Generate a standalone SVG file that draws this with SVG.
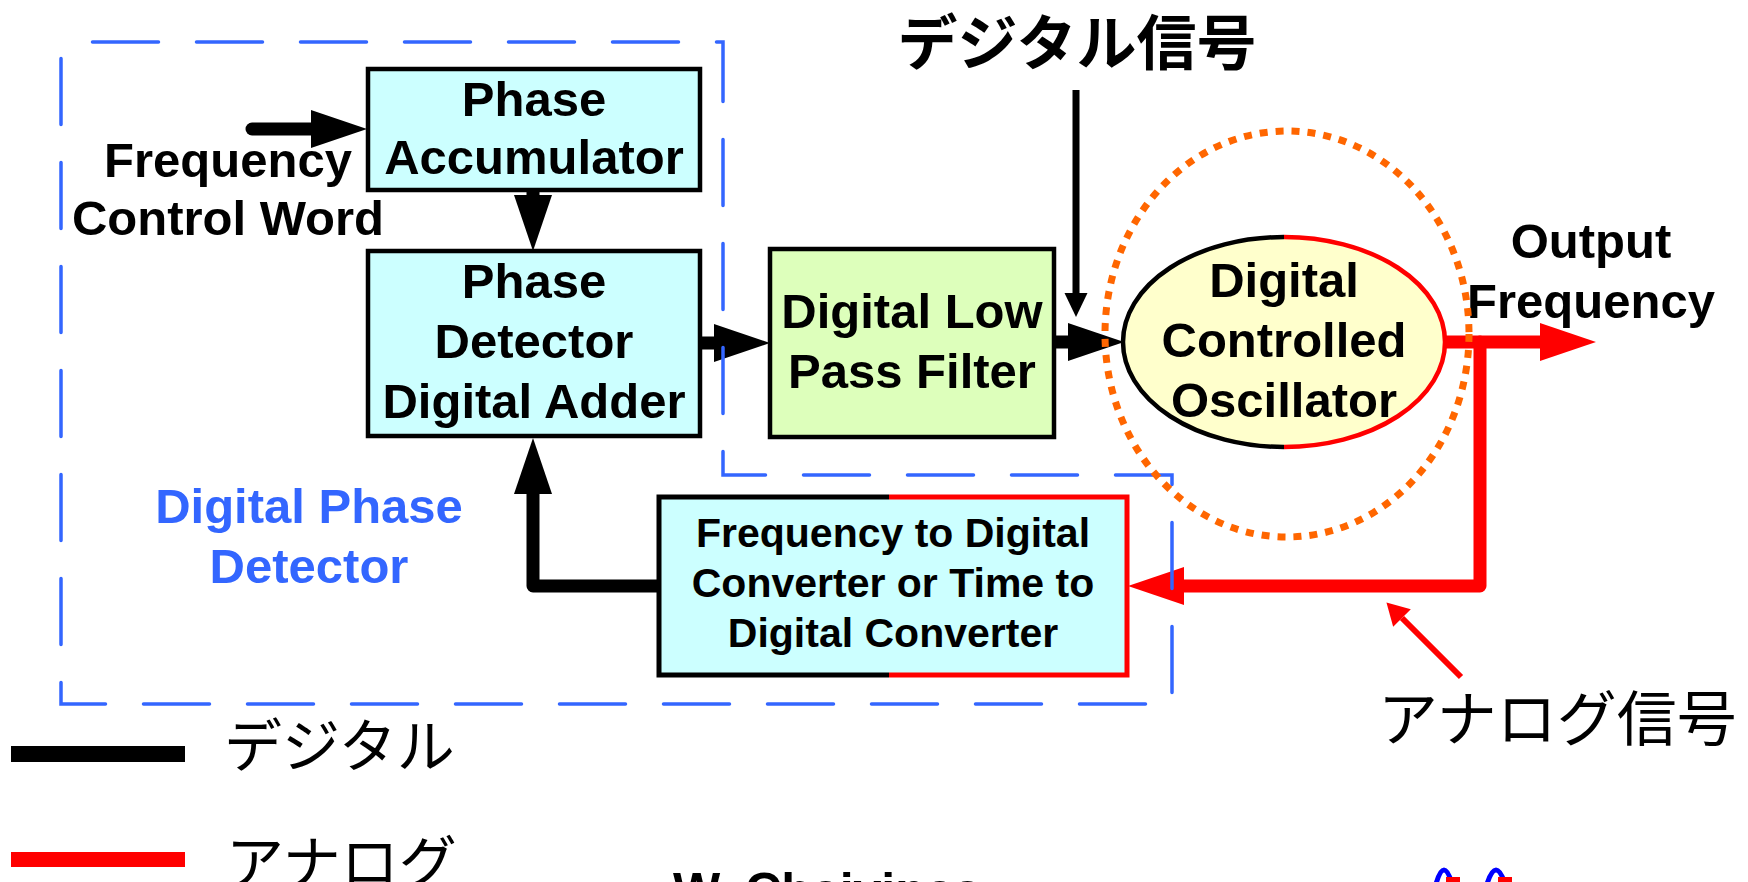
<svg xmlns="http://www.w3.org/2000/svg" width="1748" height="882" viewBox="0 0 1748 882">
  <defs>
    <style>
      .lbl{font-family:"Liberation Sans",Arial,sans-serif;font-weight:bold;font-size:49px;text-anchor:middle;fill:#000}
      .small{font-size:41px}
      .blue{fill:#3366FF}
      .jp{font-family:"Noto Sans CJK JP","Noto Sans CJK SC",sans-serif;fill:#000}
      .box{stroke:#000;stroke-width:4.5}
      .cyan{fill:#CCFFFF}
      .wire{fill:none;stroke:#000;stroke-width:13;stroke-linecap:round;stroke-linejoin:round}
      .wire.red{stroke:#FF0000}
      .thin{fill:none;stroke:#000;stroke-width:7}
      .thin.red{stroke:#FF0000;stroke-width:6}
    </style>
    <marker id="head" markerUnits="userSpaceOnUse" markerWidth="56" markerHeight="38" refX="0" refY="19" orient="auto" overflow="visible">
      <path d="M0,0 L56,19 L0,38 Z" fill="#000"/>
    </marker>
    <marker id="head-red" markerUnits="userSpaceOnUse" markerWidth="56" markerHeight="38" refX="0" refY="19" orient="auto" overflow="visible">
      <path d="M0,0 L56,19 L0,38 Z" fill="#FF0000"/>
    </marker>
    <marker id="head-thin" markerUnits="userSpaceOnUse" markerWidth="24" markerHeight="23" refX="0" refY="11.5" orient="auto" overflow="visible">
      <path d="M0,0 L24,11.5 L0,23 Z" fill="#000"/>
    </marker>
    <marker id="head-thin-red" markerUnits="userSpaceOnUse" markerWidth="22" markerHeight="25" refX="0" refY="12.5" orient="auto" overflow="visible">
      <path d="M0,0 L22,12.5 L0,25 Z" fill="#FF0000"/>
    </marker>
  </defs>

  <rect width="1748" height="882" fill="#FFFFFF"/>

  <!-- signal paths -->
  <g id="connectors">
    <path class="wire" d="M252,129 L311,129" marker-end="url(#head)"/>
    <path class="wire" d="M533,188 L533,195" marker-end="url(#head)"/>
    <path class="wire" d="M700,343 L714,343" marker-end="url(#head)"/>
    <path class="wire" d="M1050,342 L1068,342" marker-end="url(#head)"/>
    <path class="wire" d="M662,586 L533,586 L533,494" marker-end="url(#head)"/>
    <path class="wire red" d="M1444,342 L1540,342" marker-end="url(#head-red)"/>
    <path class="wire red" d="M1480,342 L1480,586 L1184,586" marker-end="url(#head-red)"/>
    <path class="thin" d="M1076,90 L1076,293" marker-end="url(#head-thin)"/>
    <path class="thin red" d="M1461,677 L1402,618" marker-end="url(#head-thin-red)"/>
  </g>

  <g id="phase-accumulator">
    <rect class="box cyan" x="368" y="69" width="332" height="121"/>
    <text class="lbl" x="534" y="116">Phase</text>
    <text class="lbl" x="534" y="174">Accumulator</text>
  </g>

  <g id="phase-detector">
    <rect class="box cyan" x="368" y="251" width="332" height="185"/>
    <text class="lbl" x="534" y="298">Phase</text>
    <text class="lbl" x="534" y="358">Detector</text>
    <text class="lbl" x="534" y="418">Digital Adder</text>
  </g>

  <g id="loop-filter">
    <rect class="box" x="770" y="249" width="284" height="188" fill="#DDFFBB"/>
    <text class="lbl" x="912" y="328">Digital Low</text>
    <text class="lbl" x="912" y="388">Pass Filter</text>
  </g>

  <g id="dco">
    <ellipse cx="1284" cy="342" rx="161" ry="105" fill="#FFFFCC"/>
    <path d="M1284,237 A161,105 0 0 0 1284,447" fill="none" stroke="#000" stroke-width="4.5"/>
    <path d="M1284,237 A161,105 0 0 1 1284,447" fill="none" stroke="#FF0000" stroke-width="4.5"/>
    <text class="lbl" x="1284" y="297">Digital</text>
    <text class="lbl" x="1284" y="357">Controlled</text>
    <text class="lbl" x="1284" y="417">Oscillator</text>
  </g>

  <g id="fdc-tdc">
    <rect class="cyan" x="659" y="497" width="468" height="178"/>
    <path d="M889,497 L659,497 L659,675 L889,675" fill="none" stroke="#000" stroke-width="5"/>
    <path d="M889,497 L1127,497 L1127,675 L889,675" fill="none" stroke="#FF0000" stroke-width="5"/>
    <text class="lbl small" x="893" y="547">Frequency to Digital</text>
    <text class="lbl small" x="893" y="597">Converter or Time to</text>
    <text class="lbl small" x="893" y="647">Digital Converter</text>
  </g>

  <g id="fcw-label">
    <text class="lbl" x="228" y="177">Frequency</text>
    <text class="lbl" x="228" y="235">Control Word</text>
  </g>

  <g id="output-label">
    <text class="lbl" x="1591" y="258">Output</text>
    <text class="lbl" x="1591" y="318">Frequency</text>
  </g>

  <!-- digital phase detector boundary -->
  <g id="dpd-boundary">
    <path d="M61,42 L723,42 L723,475 L1172,475 L1172,704 L61,704 Z" fill="none" stroke="#3366FF" stroke-width="3.5" stroke-linecap="round" stroke-dasharray="66 38" stroke-dashoffset="72.5"/>
    <text class="lbl blue" x="309" y="523">Digital Phase</text>
    <text class="lbl blue" x="309" y="583">Detector</text>
  </g>

  <!-- DCO highlight -->
  <ellipse id="dco-highlight" cx="1287" cy="334" rx="182" ry="203" fill="none" stroke="#FF6600" stroke-width="7" stroke-dasharray="8 8"/>

  <g id="annotations">
    <text class="jp" x="1077" y="65" font-size="60" font-weight="700" text-anchor="middle">デジタル信号</text>
    <text class="jp" x="1378" y="741" font-size="60">アナログ信号</text>
  </g>

  <g id="legend">
    <rect x="11" y="746" width="174" height="16" fill="#000"/>
    <text class="jp" x="224" y="767" font-size="58">デジタル</text>
    <rect x="11" y="852" width="174" height="15" fill="#FF0000"/>
    <text class="jp" x="226" y="884" font-size="58">アナログ</text>
  </g>

  <g id="footer">
    <text x="673" y="908" font-family="'Liberation Sans',Arial,sans-serif" font-weight="bold" font-size="50">W. Chaivipas</text>
    <path d="M1436,884 Q1444,856 1452,884 M1487,884 Q1496,856 1505,884" fill="none" stroke="#0000FF" stroke-width="5"/>
    <rect x="1446" y="877" width="14" height="6" fill="#FF0000"/>
    <rect x="1498" y="877" width="14" height="6" fill="#FF0000"/>
  </g>
</svg>
